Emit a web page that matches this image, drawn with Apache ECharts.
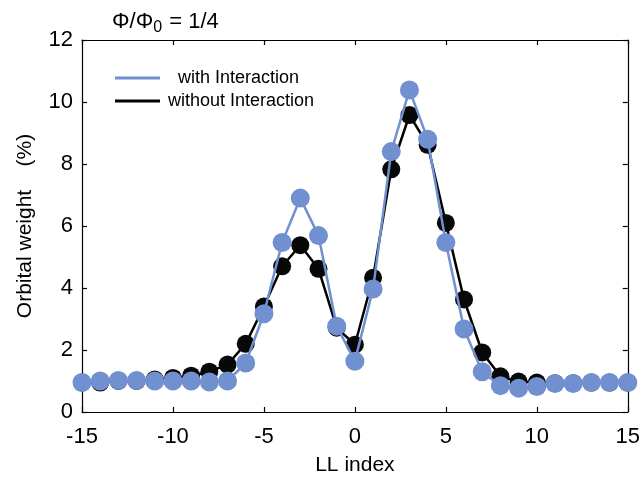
<!DOCTYPE html>
<html>
<head>
<meta charset="utf-8">
<script src="https://cdn.jsdelivr.net/npm/echarts@6/dist/echarts.min.js"></script>
<style>html,body{margin:0;padding:0;background:#fff}#c{width:643px;height:483px}</style>
</head>
<body>
<div id="c"></div>
<script>
var llIndex = [-15,-14,-13,-12,-11,-10,-9,-8,-7,-6,-5,-4,-3,-2,-1,0,1,2,3,4,5,6,7,8,9,10,11,12,13,14,15];
var withoutInteraction = [0.95,0.95,1.0,1.0,1.05,1.1,1.17,1.3,1.53,2.2,3.4,4.7,5.38,4.62,2.72,2.17,4.33,7.83,9.58,8.62,6.1,3.63,1.92,1.15,0.98,0.95,0.93,0.93,0.95,0.95,0.95];
var withInteraction = [0.95,1.0,1.02,1.02,1.0,1.0,1.0,0.97,1.0,1.58,3.17,5.47,6.9,5.69,2.77,1.64,3.97,8.4,10.39,8.8,5.47,2.68,1.3,0.85,0.77,0.82,0.92,0.92,0.95,0.95,0.95];
var xTicks = [-15,-10,-5,0,5,10,15];
var yTicks = [0,2,4,6,8,10,12];

var blue = '#7090cf';
var font = 'Liberation Sans, Arial, sans-serif';

function pairs(ys){ return llIndex.map(function(x,i){ return [x, ys[i]]; }); }

var chart = echarts.init(document.getElementById('c'), null, {renderer:'canvas'});
var axisLine = {show:true, onZero:false, lineStyle:{color:'#000', width:1.2}};
var tick = {show:true, inside:true, length:5, lineStyle:{color:'#000', width:1.2}};
chart.setOption({
  animation:false,
  backgroundColor:'#fff',
  title:{
    text:'{a|Φ/Φ}{s|0}{a| = 1/4}',
    left:107, top:3,
    textStyle:{fontWeight:'normal', rich:{
      a:{fontFamily:font, fontSize:22, fontWeight:'normal', color:'#000'},
      s:{fontFamily:font, fontSize:16, fontWeight:'normal', color:'#000', verticalAlign:'bottom', padding:[12,1,0,0]}
    }}
  },
  legend:{
    left:110, top:64, orient:'vertical', itemGap:5,
    itemWidth:45, itemHeight:3,
    textStyle:{fontFamily:font, fontSize:18, color:'#000', padding:[0,0,0,3]},
    data:[
      {name:'  with Interaction', icon:'rect', itemStyle:{color:blue}},
      {name:'without Interaction', icon:'rect', itemStyle:{color:'#000'}}
    ]
  },
  grid:{left:82, right:13, top:40, bottom:71},
  xAxis:[{
    type:'value', min:-15, max:15, interval:5,
    name:'LL index', nameLocation:'middle', nameGap:43,
    nameTextStyle:{fontFamily:font, fontSize:21, color:'#000'},
    axisLine:axisLine, axisTick:tick, splitLine:{show:false},
    axisLabel:{fontFamily:font, fontSize:22, color:'#000', margin:14,
      formatter:function(v){ return xTicks.indexOf(v)>=0 ? String(v) : ''; }}
  },{
    type:'value', min:-15, max:15, interval:5, position:'top',
    axisLine:axisLine, axisTick:tick, axisLabel:{show:false}, splitLine:{show:false}
  }],
  yAxis:[{
    type:'value', min:0, max:12, interval:2, position:'left',
    name:'Orbital weight    (%)', nameLocation:'middle', nameGap:46,
    nameTextStyle:{fontFamily:font, fontSize:21, color:'#000'},
    axisLine:axisLine, axisTick:tick, splitLine:{show:false},
    axisLabel:{fontFamily:font, fontSize:22, color:'#000', margin:9,
      formatter:function(v){ return yTicks.indexOf(v)>=0 ? String(v) : ''; }}
  },{
    type:'value', min:0, max:12, interval:2, position:'right',
    axisLine:axisLine, axisTick:tick, axisLabel:{show:false}, splitLine:{show:false}
  }],
  series:[
    {name:'without Interaction', type:'line', data:pairs(withoutInteraction),
     symbol:'circle', symbolSize:18,
     lineStyle:{color:'#000', width:2.5}, itemStyle:{color:'#080808'}, z:2},
    {name:'  with Interaction', type:'line', data:pairs(withInteraction),
     symbol:'circle', symbolSize:19,
     lineStyle:{color:blue, width:2.5}, itemStyle:{color:blue}, z:3}
  ]
});
</script>
</body>
</html>
